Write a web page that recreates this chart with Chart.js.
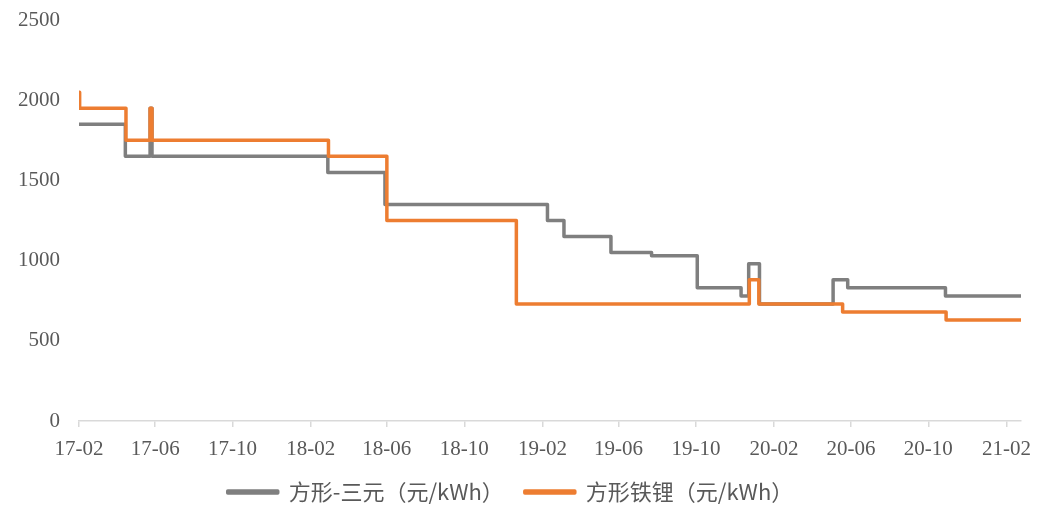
<!DOCTYPE html>
<html>
<head>
<meta charset="utf-8">
<script src="https://cdn.jsdelivr.net/npm/chart.js@4/dist/chart.umd.min.js"></script>
<style>
  html, body { margin: 0; padding: 0; background: #fff; }
  #wrap { width: 1053px; height: 507px; }
</style>
</head>
<body>
<div id="wrap"><canvas id="c"></canvas></div>
<script>
// step change dates and the price that starts on each date
const nmcDates = ['2017-02-01', '2017-04-15', '2017-05-24', '2017-05-27', '2018-02-28', '2018-05-29',
  '2019-02-09', '2019-03-07', '2019-05-20', '2019-07-23', '2019-10-03', '2019-12-11', '2019-12-23',
  '2020-01-09', '2020-05-04', '2020-05-27', '2020-10-28', '2021-02-24'];
const nmcValues = [1850, 1650, 1950, 1650, 1550, 1350,
  1250, 1150, 1050, 1030, 830, 780, 980,
  730, 880, 830, 780, 780];

const lfpDates = ['2017-02-01', '2017-02-02', '2017-04-16', '2017-05-24', '2017-05-27', '2018-03-01',
  '2018-06-01', '2018-12-22', '2019-12-24', '2020-01-08', '2020-05-19', '2020-10-29', '2021-02-24'];
const lfpValues = [2050, 1950, 1750, 1950, 1750, 1650,
  1250, 730, 880, 730, 680, 630, 630];

const seriesNames = ['方形-三元（元/kWh）', '方形铁锂（元/kWh）'];
const tickLabels = ['17-02', '17-06', '17-10', '18-02', '18-06', '18-10', '19-02',
  '19-06', '19-10', '20-02', '20-06', '20-10', '21-02'];
const yTicks = [0, 500, 1000, 1500, 2000, 2500];

// days counted from the first date on the axis
const DAY0 = Date.parse('2017-02-01');
const toDay = (s) => Math.round((Date.parse(s) - DAY0) / 86400000);
const labelToDay = (l) => toDay('20' + l + '-01');

const toPoints = (dates, values) => dates.map((d, i) => ({ x: toDay(d), y: values[i] }));

const textColor = '#595959';
const axisColor = '#d9d9d9';
const numFont = { family: "'Liberation Serif', serif", size: 21 };

const tickMap = {};
tickLabels.forEach(l => { tickMap[labelToDay(l)] = l; });

// nudge the legend down a few pixels
const legendShift = {
  id: 'legendShift',
  beforeDraw: (chart) => {
    if (chart.legend && !chart.legend._shifted) {
      chart.legend.top += 6;
      chart.legend.bottom += 6;
      chart.legend._shifted = true;
    }
  }
};

new Chart(document.getElementById('c'), {
  type: 'line',
  plugins: [legendShift],
  data: {
    datasets: [
      {
        label: seriesNames[0],
        data: toPoints(nmcDates, nmcValues),
        borderColor: '#7f7f7f',
        backgroundColor: '#7f7f7f',
        borderWidth: 3.5,
        stepped: true,
        pointRadius: 0,
        fill: false,
        order: 1,
        borderJoinStyle: 'round',
        borderCapStyle: 'round',
      },
      {
        label: seriesNames[1],
        data: toPoints(lfpDates, lfpValues),
        borderColor: '#ed7d31',
        backgroundColor: '#ed7d31',
        borderWidth: 3.5,
        stepped: true,
        pointRadius: 0,
        fill: false,
        order: 0,
        borderJoinStyle: 'round',
        borderCapStyle: 'round',
      }
    ]
  },
  options: {
    responsive: true,
    maintainAspectRatio: false,
    animation: false,
    layout: {
      padding: { left: 0, right: 32, top: 20, bottom: 0 }
    },
    plugins: {
      tooltip: { enabled: false },
      legend: {
        display: true,
        position: 'bottom',
        labels: {
          color: textColor,
          boxWidth: 50,
          boxHeight: 2,
          padding: 10,
          font: { family: "'Noto Sans CJK SC', sans-serif", size: 22 },
          sort: (a, b) => a.datasetIndex - b.datasetIndex,
          generateLabels: (chart) => {
            const items = Chart.defaults.plugins.legend.labels.generateLabels(chart);
            items.forEach(it => {
              if (it.datasetIndex === 0) it.text = it.text + '\u3000';
            });
            return items;
          }
        }
      }
    },
    scales: {
      x: {
        type: 'linear',
        min: 0,
        max: toDay(nmcDates[nmcDates.length - 1]),
        afterBuildTicks: (scale) => {
          scale.ticks = tickLabels.map(l => ({ value: labelToDay(l) }));
        },
        afterFit: (scale) => { scale.height = 44; },
        grid: {
          display: true,
          drawOnChartArea: false,
          drawTicks: true,
          tickLength: 6,
          color: axisColor,
          lineWidth: 1.5
        },
        border: { display: true, color: axisColor, width: 1.5 },
        ticks: {
          autoSkip: false,
          maxRotation: 0,
          color: textColor,
          font: numFont,
          padding: 10,
          callback: (v) => tickMap[v] || ''
        }
      },
      y: {
        min: 0,
        max: 2500,
        afterBuildTicks: (scale) => {
          scale.ticks = yTicks.map(v => ({ value: v }));
        },
        afterFit: (scale) => {
          scale.width = 79;
          scale.paddingTop = 0;
          scale.paddingBottom = 0;
        },
        grid: { display: false, drawTicks: false },
        border: { display: false },
        ticks: {
          color: textColor,
          font: numFont,
          padding: 19,
          callback: (v) => String(v)
        }
      }
    }
  }
});
</script>
</body>
</html>
